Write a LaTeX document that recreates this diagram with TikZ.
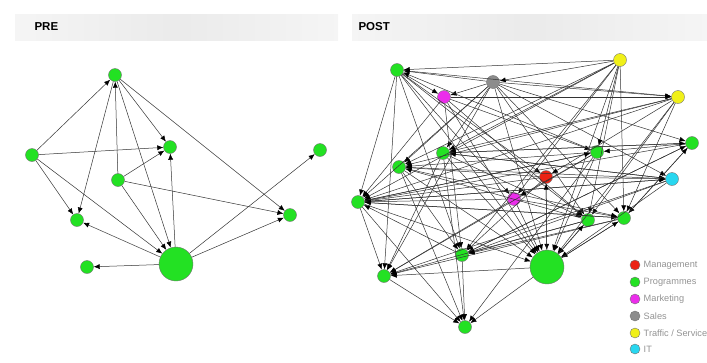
\documentclass[tikz,border=0pt]{standalone}
\usepackage{fontspec}
\setmainfont{Liberation Sans}
\usetikzlibrary{arrows.meta}

\definecolor{mgmtRed}{RGB}{235,35,20}
\definecolor{progGreen}{RGB}{35,225,35}
\definecolor{mktMagenta}{RGB}{235,45,235}
\definecolor{salesGray}{RGB}{140,140,140}
\definecolor{trafficYellow}{RGB}{240,240,25}
\definecolor{itCyan}{RGB}{40,215,240}

\begin{document}
\begin{tikzpicture}[x=1pt, y=-1pt,
    dept/.style={circle, draw=black!55, line width=0.4pt, minimum size=13pt, inner sep=0pt},
    hub/.style={dept, minimum size=34pt},
    edge/.style={draw=black!80, line width=0.5pt, -{Latex[length=6pt,width=5pt,color=black]}},
    header/.style={left color=gray!8, right color=gray!8, middle color=gray!16, draw=none},
    title/.style={font=\fontsize{11.5}{14}\selectfont\bfseries, anchor=west},
    keytext/.style={text=gray!85, font=\fontsize{9.2}{11}\selectfont, anchor=west}]
    \clip (0,0) rectangle (707,362);

    % Header bars
    \shade[header] (15,14) rectangle (338,40);
    \shade[header] (352,14) rectangle (707,40);
    \node[title] (preTitle) at (31,27) {PRE};
    \node[title] (postTitle) at (355,27) {POST};

    % PRE network
    \node[dept, fill=progGreen] (preTop) at (115,75) {};
    \node[dept, fill=progGreen] (preLeft) at (32,155) {};
    \node[dept, fill=progGreen] (preMid) at (170,147) {};
    \node[dept, fill=progGreen] (preCentre) at (118,180) {};
    \node[dept, fill=progGreen] (preLow) at (77,220) {};
    \node[dept, fill=progGreen] (preFar) at (320,150) {};
    \node[dept, fill=progGreen] (preRight) at (290,215) {};
    \node[dept, fill=progGreen] (preFoot) at (87,267) {};
    \node[hub, fill=progGreen] (preHub) at (176,264) {};

    \foreach \a/\b in {preLeft/preTop, preTop/preLow, preTop/preMid, preTop/preRight,
        preTop/preHub, preCentre/preTop, preLeft/preMid, preLeft/preLow, preLeft/preHub,
        preCentre/preMid, preCentre/preHub, preCentre/preRight, preHub/preMid,
        preHub/preFar, preHub/preRight, preHub/preLow, preHub/preFoot}
        \draw[edge] (\a) -- (\b);

    % POST network
    \node[dept, fill=progGreen] (postTL) at (397,70) {};
    \node[dept, fill=salesGray] (postSales) at (493,82) {};
    \node[dept, fill=mktMagenta] (postMktA) at (444,97) {};
    \node[dept, fill=trafficYellow] (postTrA) at (620,60) {};
    \node[dept, fill=trafficYellow] (postTrB) at (678,97) {};
    \node[dept, fill=progGreen] (postPgA) at (692,143) {};
    \node[dept, fill=progGreen] (postPgB) at (597,152) {};
    \node[dept, fill=progGreen] (postPgC) at (443,153) {};
    \node[dept, fill=progGreen] (postPgD) at (399,167) {};
    \node[dept, fill=mgmtRed] (postMgmt) at (546,177) {};
    \node[dept, fill=itCyan] (postIT) at (672,179) {};
    \node[dept, fill=mktMagenta] (postMktB) at (514,199) {};
    \node[dept, fill=progGreen] (postPgE) at (358,202) {};
    \node[dept, fill=progGreen] (postPgF) at (588,220) {};
    \node[dept, fill=progGreen] (postPgG) at (624,218) {};
    \node[dept, fill=progGreen] (postPgH) at (462,255) {};
    \node[hub, fill=progGreen] (postHub) at (547,267) {};
    \node[dept, fill=progGreen] (postPgI) at (384,276) {};
    \node[dept, fill=progGreen] (postPgJ) at (465,327) {};

    \foreach \a/\b in {postTrA/postTL, postTL/postTrB, postTL/postPgE, postTL/postPgI,
        postTL/postMktB, postTL/postHub, postTL/postPgH, postTL/postPgF, postTL/postMgmt,
        postSales/postMktA, postSales/postTL, postSales/postPgE, postSales/postPgC,
        postSales/postPgD, postSales/postHub, postSales/postPgG, postSales/postIT,
        postSales/postPgA, postSales/postTrB, postSales/postPgI, postSales/postPgF,
        postTL/postMktA, postMktA/postPgE, postMktA/postPgH, postMktA/postHub,
        postMktA/postPgF, postMktA/postTrB, postMktA/postPgB,
        postTrA/postPgB, postTrA/postPgG, postTrA/postPgF, postTrA/postPgC,
        postTrA/postPgD, postTrA/postPgE, postTrA/postMktB, postTrA/postHub,
        postTrA/postPgH, postTrA/postSales,
        postTrB/postPgC, postTrB/postPgD, postTrB/postPgE, postTrB/postPgG,
        postTrB/postPgF, postTrB/postMgmt, postTrB/postHub,
        postPgA/postPgE, postPgA/postPgC, postPgA/postPgG, postPgA/postPgB, postPgA/postPgH,
        postPgB/postPgE, postPgB/postPgD, postPgB/postPgI, postPgB/postHub,
        postPgB/postPgJ, postPgB/postMktB, postPgB/postTL,
        postPgC/postPgI, postPgC/postPgA, postPgC/postIT, postPgC/postHub,
        postPgC/postPgJ, postPgC/postPgF,
        postPgD/postPgH, postPgD/postIT, postPgD/postPgG, postPgD/postPgJ, postPgD/postHub,
        postMgmt/postPgE, postMgmt/postPgH, postMgmt/postHub, postMgmt/postPgD, postMgmt/postIT,
        postIT/postPgE, postIT/postPgC, postIT/postPgI, postIT/postHub, postIT/postPgH,
        postMktB/postPgE, postMktB/postHub, postMktB/postPgG, postMktB/postPgI,
        postPgE/postPgI, postPgE/postPgJ, postPgE/postHub, postPgE/postPgG,
        postPgE/postIT, postPgE/postPgB,
        postPgF/postHub, postPgF/postPgD, postPgF/postPgH, postPgF/postPgI,
        postPgG/postHub, postPgG/postPgE, postPgG/postPgH, postPgG/postPgI, postPgG/postPgA,
        postPgH/postPgJ, postPgH/postPgE, postPgH/postPgA,
        postHub/postPgI, postHub/postPgJ, postHub/postPgG, postHub/postPgF,
        postHub/postMgmt, postPgI/postPgJ}
        \draw[edge] (\a) -- (\b);

    % Legend
    \node[dept, fill=mgmtRed, minimum size=10pt] (keyMgmt) at (635,265) {};
    \node[dept, fill=progGreen, minimum size=10pt] (keyProg) at (635,282) {};
    \node[dept, fill=mktMagenta, minimum size=10pt] (keyMkt) at (635,299) {};
    \node[dept, fill=salesGray, minimum size=10pt] (keySales) at (635,316) {};
    \node[dept, fill=trafficYellow, minimum size=10pt] (keyTraffic) at (635,333) {};
    \node[dept, fill=itCyan, minimum size=10pt] (keyIT) at (635,349) {};
    \node[keytext] at (keyMgmt.east) {Management};
    \node[keytext] at (keyProg.east) {Programmes};
    \node[keytext] at (keyMkt.east) {Marketing};
    \node[keytext] at (keySales.east) {Sales};
    \node[keytext] at (keyTraffic.east) {Traffic / Service};
    \node[keytext] at (keyIT.east) {IT};
\end{tikzpicture}
\end{document}
